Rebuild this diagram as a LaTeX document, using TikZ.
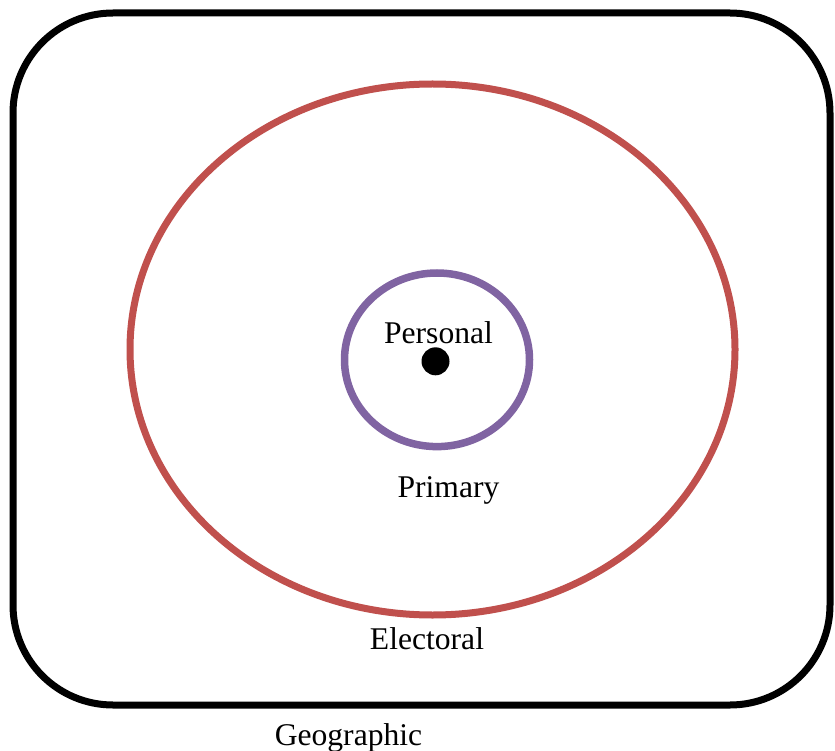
\documentclass[tikz,border=0pt]{standalone}
\usepackage{fontspec}
\setmainfont{Liberation Serif}
\usepackage{xcolor}
\usetikzlibrary{positioning}
\definecolor{electred}{HTML}{C0504D}
\definecolor{primpurple}{HTML}{8064A2}
\tikzset{
  ringlabel/.style={font=\fontsize{31.6}{38}\selectfont, anchor=base, inner sep=0pt}
}

\begin{document}
\begin{tikzpicture}[x=1pt, y=-1pt]
\useasboundingbox (0,0) rectangle (835,751);
% geographic boundary
\draw[line width=7pt, rounded corners=100pt] (13,13) rectangle (830,705);
% electoral and primary rings
\draw[electred, line width=7pt] (432.5,349.5) ellipse [x radius=302.5, y radius=265.5];
\draw[primpurple, line width=7.5pt] (437,359.8) ellipse [x radius=92.5, y radius=86.8];
% the person
\fill (435.5,361.3) circle [radius=14];
% labels: \node at (centre x, baseline y)
\foreach \nm/\x/\y/\txt in {pers/438.5/343/Personal, prim/448.5/497/Primary, elec/427/649/Electoral, geo/348.5/745/Geographic}
  {\node[ringlabel] (\nm) at (\x,\y) {\txt};}
\end{tikzpicture}
\end{document}
